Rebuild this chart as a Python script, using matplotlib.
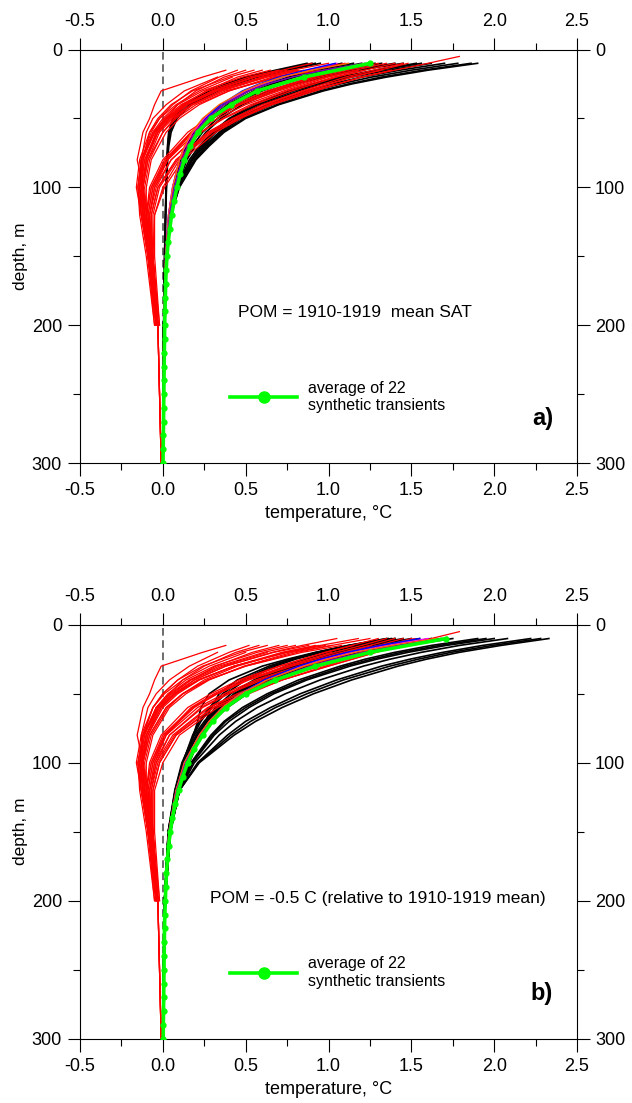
import numpy as np
import matplotlib
matplotlib.use('Agg')
import matplotlib.pyplot as plt
from matplotlib.lines import Line2D
from matplotlib.ticker import MultipleLocator

plt.rcParams['font.family'] = ['Liberation Sans', 'DejaVu Sans']

nan = float('nan')

# depth grids (m)
RED_DEPTH = [5, 10, 15, 20, 30, 40, 50, 60, 80, 100, 120, 150, 200, 300]
BLACK_DEPTH = [10, 15, 20, 25, 30, 40, 50, 60, 70, 80, 100, 120, 150, 200, 300]
GREEN_DEPTH = [10, 20, 30, 40, 50, 60, 70, 80, 90, 100, 110, 120, 130, 140, 150,
               160, 170, 180, 190, 200, 210, 220, 230, 240, 250, 260, 270, 280, 290, 300]

# ---- panel a) ----
red_a = [
    [nan, nan, 0.38, 0.24, -0.01, -0.05, -0.08, -0.12, -0.155, -0.12, -0.09, -0.06, -0.03, nan],
    [nan, nan, nan, 0.33, 0.13, 0.02, -0.06, -0.10, -0.13, -0.12, -0.10, -0.06, -0.03, nan],
    [nan, nan, 0.55, 0.40, 0.18, 0.05, -0.03, -0.08, -0.12, -0.13, -0.11, -0.07, -0.03, nan],
    [nan, nan, 0.65, 0.48, 0.24, 0.09, 0.00, -0.06, -0.12, -0.14, -0.12, -0.08, -0.04, nan],
    [nan, nan, 0.75, 0.56, 0.30, 0.13, 0.03, -0.04, -0.11, -0.13, -0.12, -0.08, -0.03, nan],
    [nan, nan, 0.85, 0.62, 0.33, 0.15, 0.04, -0.03, -0.10, -0.12, -0.11, -0.07, -0.03, -0.01],
    [nan, nan, 0.95, 0.70, 0.38, 0.18, 0.06, -0.02, -0.09, -0.12, -0.12, -0.09, -0.04, nan],
    [nan, nan, 0.60, 0.45, 0.26, 0.12, 0.02, -0.05, -0.13, -0.15, -0.13, -0.09, -0.05, nan],
    [nan, nan, 0.80, 0.60, 0.35, 0.18, 0.07, 0.00, -0.08, -0.11, -0.10, -0.07, -0.03, -0.01],
    [nan, 1.00, 0.78, 0.60, 0.32, 0.14, 0.03, -0.05, -0.13, -0.15, -0.14, -0.10, -0.05, nan],
    [nan, nan, 0.50, 0.37, 0.20, 0.09, 0.02, -0.04, -0.10, -0.12, -0.11, -0.08, -0.03, nan],
    [nan, nan, 0.90, 0.66, 0.40, 0.22, 0.10, 0.02, -0.07, -0.10, -0.10, -0.07, -0.03, nan],
    [nan, 1.10, 0.88, 0.68, 0.40, 0.20, 0.08, 0.00, -0.09, -0.12, -0.11, -0.08, -0.04, nan],
    [nan, nan, nan, 0.42, 0.22, 0.08, -0.02, -0.08, -0.14, -0.16, -0.13, -0.09, -0.04, nan],
    [nan, nan, 0.70, 0.52, 0.27, 0.11, 0.01, -0.05, -0.12, -0.14, -0.12, -0.08, -0.04, nan],
    [nan, nan, 0.45, 0.34, 0.17, 0.06, -0.02, -0.07, -0.13, -0.14, -0.12, -0.07, -0.03, nan],
    [nan, 0.90, 0.72, 0.55, 0.30, 0.14, 0.04, -0.03, -0.10, -0.13, -0.12, -0.08, -0.03, nan],
    [nan, nan, 0.82, 0.63, 0.36, 0.17, 0.05, -0.03, -0.11, -0.14, -0.13, -0.09, -0.04, nan],
    [nan, nan, nan, 0.55, 0.30, 0.13, 0.02, -0.06, -0.13, -0.15, -0.13, -0.08, -0.03, nan],
    [1.79, 1.60, 1.40, 1.20, 0.92, 0.66, 0.46, 0.30, 0.10, 0.00, -0.05, -0.06, -0.03, -0.01],
    [nan, 1.45, 1.27, 1.10, 0.84, 0.60, 0.42, 0.27, 0.08, -0.03, -0.07, -0.07, -0.03, nan],
    [nan, 1.40, 1.22, 1.05, 0.78, 0.55, 0.37, 0.23, 0.05, -0.05, -0.08, -0.07, -0.03, nan],
    [nan, nan, 1.32, 1.14, 0.86, 0.62, 0.43, 0.28, 0.08, -0.03, -0.07, -0.06, -0.03, -0.01],
    [nan, nan, 1.18, 1.00, 0.73, 0.50, 0.33, 0.20, 0.03, -0.06, -0.09, -0.08, -0.04, nan],
    [nan, 1.35, 1.16, 0.98, 0.70, 0.47, 0.30, 0.17, 0.01, -0.07, -0.10, -0.08, -0.03, nan],
    [nan, nan, 1.08, 0.90, 0.63, 0.42, 0.27, 0.15, 0.00, -0.08, -0.10, -0.08, -0.04, nan],
    [nan, 1.48, 1.31, 1.14, 0.88, 0.65, 0.47, 0.32, 0.12, 0.01, -0.05, -0.05, -0.02, nan],
    [nan, nan, 1.22, 1.03, 0.75, 0.53, 0.36, 0.23, 0.05, -0.04, -0.08, -0.07, -0.03, nan],
    [nan, nan, nan, 0.92, 0.65, 0.45, 0.30, 0.18, 0.03, -0.05, -0.08, -0.06, -0.03, -0.01],
    [nan, 1.30, 1.12, 0.95, 0.68, 0.46, 0.30, 0.18, 0.02, -0.06, -0.09, -0.07, -0.03, nan],
    [nan, nan, 1.38, 1.20, 0.90, 0.64, 0.45, 0.29, 0.09, -0.02, -0.06, -0.06, -0.02, nan],
    [nan, 1.25, 1.08, 0.92, 0.66, 0.45, 0.29, 0.17, 0.02, -0.07, -0.10, -0.08, -0.04, nan],
]

black_a = [
    [0.87, 0.68, 0.50, 0.38, 0.28, 0.13, 0.06, 0.035, 0.028, 0.024, 0.019, 0.015, 0.010, 0.005, 0.0],
    [0.90, 0.71, 0.53, 0.40, 0.30, 0.14, 0.065, 0.038, 0.030, 0.026, 0.020, 0.016, 0.011, 0.005, 0.0],
    [0.95, 0.75, 0.57, 0.44, 0.33, 0.16, 0.075, 0.042, 0.032, 0.027, 0.021, 0.017, 0.012, 0.006, 0.0],
    [0.92, 0.73, 0.56, 0.43, 0.33, 0.17, 0.085, 0.05, 0.036, 0.029, 0.022, 0.017, 0.012, 0.006, 0.0],
    [1.08, 0.88, 0.72, 0.60, 0.50, 0.35, 0.25, 0.18, 0.135, 0.10, 0.06, 0.035, 0.017, 0.005, 0.0],
    [1.20, 0.98, 0.80, 0.66, 0.55, 0.39, 0.28, 0.20, 0.15, 0.11, 0.065, 0.04, 0.018, 0.005, 0.0],
    [1.32, 1.07, 0.87, 0.72, 0.60, 0.42, 0.30, 0.22, 0.165, 0.125, 0.072, 0.043, 0.020, 0.006, 0.0],
    [1.40, 1.14, 0.93, 0.77, 0.64, 0.45, 0.33, 0.24, 0.18, 0.135, 0.078, 0.046, 0.021, 0.006, 0.0],
    [1.45, 1.18, 0.97, 0.80, 0.67, 0.48, 0.35, 0.26, 0.195, 0.145, 0.085, 0.05, 0.023, 0.007, 0.0],
    [1.28, 1.04, 0.85, 0.70, 0.58, 0.41, 0.29, 0.21, 0.16, 0.12, 0.07, 0.042, 0.020, 0.006, 0.0],
    [1.15, 0.93, 0.76, 0.63, 0.52, 0.37, 0.26, 0.19, 0.14, 0.105, 0.062, 0.037, 0.018, 0.005, 0.0],
    [1.53, 1.28, 1.07, 0.90, 0.76, 0.55, 0.40, 0.30, 0.22, 0.16, 0.085, 0.045, 0.018, 0.005, 0.0],
    [1.56, 1.31, 1.10, 0.93, 0.79, 0.57, 0.41, 0.31, 0.23, 0.17, 0.088, 0.046, 0.019, 0.005, 0.0],
    [1.62, 1.36, 1.14, 0.96, 0.82, 0.59, 0.43, 0.32, 0.24, 0.175, 0.09, 0.047, 0.019, 0.005, 0.0],
    [1.78, 1.50, 1.26, 1.07, 0.91, 0.66, 0.47, 0.35, 0.26, 0.19, 0.095, 0.048, 0.020, 0.006, 0.0],
    [1.86, 1.57, 1.32, 1.12, 0.95, 0.69, 0.49, 0.36, 0.27, 0.195, 0.098, 0.049, 0.020, 0.006, 0.0],
    [1.90, 1.60, 1.35, 1.14, 0.97, 0.70, 0.50, 0.37, 0.28, 0.20, 0.10, 0.05, 0.020, 0.006, 0.0],
    [1.70, 1.43, 1.20, 1.02, 0.87, 0.63, 0.45, 0.34, 0.25, 0.18, 0.092, 0.047, 0.019, 0.005, 0.0],
]

colored_a = {
    '#ff00ff': [1.05, 0.87, 0.72, 0.60, 0.50, 0.35, 0.25, 0.18, 0.135, 0.10, 0.058, 0.034, 0.016, 0.005, 0.0],
    '#0000ff': [1.04, 0.86, 0.70, 0.58, 0.48, 0.35, 0.26, 0.20, 0.16, 0.12, 0.07, 0.042, 0.02, 0.006, 0.0],
    '#ff6600': [1.12, 0.90, 0.72, 0.59, 0.49, 0.34, 0.24, 0.175, 0.13, 0.10, 0.06, 0.036, 0.017, 0.005, 0.0],
    '#8000c0': [1.22, 0.97, 0.78, 0.63, 0.52, 0.37, 0.265, 0.195, 0.15, 0.115, 0.068, 0.04, 0.019, 0.006, 0.0],
}

green_a = [1.25, 0.85, 0.57, 0.41, 0.29, 0.21, 0.165, 0.13, 0.105, 0.085, 0.068, 0.053, 0.042, 0.032, 0.025,
           0.020, 0.017, 0.015, 0.013, 0.011, 0.010, 0.009, 0.008, 0.007, 0.006, 0.005, 0.004, 0.003, 0.002, 0.001]

# ---- panel b) ----
red_b = [
    [nan, nan, 0.38, 0.24, -0.01, -0.05, -0.08, -0.12, -0.155, -0.12, -0.09, -0.06, -0.03, nan],
    [nan, nan, nan, 0.33, 0.16, 0.04, -0.04, -0.09, -0.13, -0.12, -0.10, -0.06, -0.03, nan],
    [nan, nan, 0.63, 0.47, 0.24, 0.09, 0.00, -0.06, -0.12, -0.13, -0.11, -0.07, -0.03, nan],
    [nan, nan, 0.75, 0.57, 0.31, 0.14, 0.03, -0.04, -0.11, -0.14, -0.12, -0.08, -0.04, nan],
    [nan, nan, 0.88, 0.67, 0.38, 0.19, 0.07, -0.02, -0.10, -0.13, -0.12, -0.08, -0.03, nan],
    [nan, nan, 0.98, 0.75, 0.43, 0.22, 0.09, 0.00, -0.09, -0.12, -0.11, -0.07, -0.03, -0.01],
    [nan, nan, 1.08, 0.84, 0.50, 0.27, 0.12, 0.02, -0.08, -0.12, -0.12, -0.09, -0.04, nan],
    [nan, nan, 0.70, 0.54, 0.32, 0.17, 0.06, -0.03, -0.12, -0.15, -0.13, -0.09, -0.05, nan],
    [nan, nan, 0.94, 0.73, 0.45, 0.25, 0.12, 0.03, -0.07, -0.11, -0.10, -0.07, -0.03, -0.01],
    [nan, 1.18, 0.95, 0.75, 0.43, 0.21, 0.07, -0.02, -0.12, -0.15, -0.14, -0.10, -0.05, nan],
    [nan, nan, 0.58, 0.44, 0.25, 0.12, 0.04, -0.03, -0.10, -0.12, -0.11, -0.08, -0.03, nan],
    [nan, nan, 1.02, 0.78, 0.49, 0.28, 0.14, 0.04, -0.06, -0.10, -0.10, -0.07, -0.03, nan],
    [nan, 1.25, 1.02, 0.81, 0.50, 0.27, 0.12, 0.02, -0.08, -0.12, -0.11, -0.08, -0.04, nan],
    [nan, nan, nan, 0.50, 0.28, 0.12, 0.01, -0.06, -0.13, -0.16, -0.13, -0.09, -0.04, nan],
    [nan, nan, 0.80, 0.61, 0.34, 0.16, 0.04, -0.04, -0.11, -0.14, -0.12, -0.08, -0.04, nan],
    [nan, nan, 0.52, 0.40, 0.21, 0.09, 0.00, -0.06, -0.12, -0.14, -0.12, -0.07, -0.03, nan],
    [nan, 1.05, 0.84, 0.66, 0.38, 0.19, 0.07, -0.01, -0.09, -0.13, -0.12, -0.08, -0.03, nan],
    [nan, nan, 0.92, 0.72, 0.43, 0.22, 0.08, -0.01, -0.10, -0.14, -0.13, -0.09, -0.04, nan],
    [nan, nan, nan, 0.63, 0.36, 0.17, 0.05, -0.04, -0.12, -0.15, -0.13, -0.08, -0.03, nan],
    [1.79, 1.62, 1.45, 1.28, 1.00, 0.72, 0.50, 0.30, 0.08, -0.02, -0.06, -0.06, -0.03, -0.01],
    [nan, 1.50, 1.35, 1.20, 0.92, 0.66, 0.45, 0.27, 0.06, -0.04, -0.07, -0.07, -0.03, nan],
    [nan, 1.45, 1.30, 1.15, 0.86, 0.60, 0.40, 0.24, 0.04, -0.05, -0.08, -0.07, -0.03, nan],
    [nan, nan, 1.40, 1.24, 0.95, 0.68, 0.47, 0.28, 0.07, -0.03, -0.07, -0.06, -0.03, -0.01],
    [nan, nan, 1.26, 1.10, 0.82, 0.56, 0.37, 0.21, 0.02, -0.06, -0.09, -0.08, -0.04, nan],
    [nan, 1.40, 1.25, 1.08, 0.78, 0.52, 0.33, 0.18, 0.00, -0.07, -0.10, -0.08, -0.03, nan],
    [nan, nan, 1.15, 0.98, 0.70, 0.46, 0.29, 0.15, -0.01, -0.08, -0.10, -0.08, -0.04, nan],
    [nan, 1.52, 1.38, 1.24, 0.98, 0.72, 0.52, 0.33, 0.10, 0.00, -0.05, -0.05, -0.02, nan],
    [nan, nan, 1.30, 1.13, 0.84, 0.58, 0.39, 0.23, 0.04, -0.04, -0.08, -0.07, -0.03, nan],
    [nan, nan, nan, 1.02, 0.74, 0.50, 0.32, 0.18, 0.02, -0.05, -0.08, -0.06, -0.03, -0.01],
    [nan, 1.35, 1.20, 1.04, 0.76, 0.51, 0.33, 0.19, 0.01, -0.06, -0.09, -0.07, -0.03, nan],
    [nan, nan, 1.45, 1.29, 1.00, 0.72, 0.50, 0.31, 0.08, -0.02, -0.06, -0.06, -0.02, nan],
    [nan, 1.30, 1.14, 0.98, 0.71, 0.48, 0.31, 0.17, 0.01, -0.07, -0.10, -0.08, -0.04, nan],
]

black_b = [
    [1.36, 1.12, 0.93, 0.77, 0.64, 0.45, 0.34, 0.29, 0.26, 0.23, 0.16, 0.10, 0.045, 0.012, 0.0],
    [1.38, 1.13, 0.92, 0.75, 0.60, 0.40, 0.28, 0.23, 0.21, 0.185, 0.13, 0.085, 0.035, 0.010, 0.0],
    [1.35, 1.12, 0.93, 0.78, 0.66, 0.48, 0.36, 0.28, 0.22, 0.18, 0.12, 0.075, 0.033, 0.010, 0.0],
    [1.40, 1.16, 0.96, 0.80, 0.68, 0.50, 0.38, 0.29, 0.23, 0.185, 0.12, 0.075, 0.033, 0.010, 0.0],
    [1.45, 1.22, 1.04, 0.89, 0.77, 0.57, 0.43, 0.33, 0.26, 0.20, 0.12, 0.075, 0.033, 0.010, 0.0],
    [1.55, 1.30, 1.10, 0.94, 0.81, 0.60, 0.45, 0.35, 0.27, 0.21, 0.125, 0.078, 0.035, 0.010, 0.0],
    [1.62, 1.36, 1.15, 0.98, 0.85, 0.63, 0.47, 0.36, 0.28, 0.22, 0.13, 0.08, 0.036, 0.011, 0.0],
    [1.68, 1.41, 1.19, 1.02, 0.88, 0.65, 0.49, 0.38, 0.29, 0.23, 0.135, 0.083, 0.037, 0.011, 0.0],
    [1.75, 1.47, 1.24, 1.06, 0.91, 0.67, 0.51, 0.39, 0.30, 0.235, 0.14, 0.086, 0.038, 0.012, 0.0],
    [1.40, 1.18, 1.00, 0.86, 0.74, 0.55, 0.41, 0.32, 0.25, 0.19, 0.115, 0.072, 0.032, 0.010, 0.0],
    [1.50, 1.26, 1.07, 0.92, 0.79, 0.59, 0.44, 0.34, 0.265, 0.205, 0.122, 0.076, 0.034, 0.010, 0.0],
    [1.90, 1.62, 1.40, 1.22, 1.07, 0.82, 0.63, 0.48, 0.37, 0.29, 0.17, 0.095, 0.042, 0.012, 0.0],
    [1.95, 1.67, 1.44, 1.26, 1.10, 0.85, 0.65, 0.50, 0.38, 0.30, 0.175, 0.098, 0.043, 0.012, 0.0],
    [2.00, 1.71, 1.48, 1.29, 1.13, 0.87, 0.67, 0.52, 0.40, 0.31, 0.18, 0.10, 0.044, 0.013, 0.0],
    [2.22, 1.93, 1.69, 1.49, 1.32, 1.05, 0.83, 0.65, 0.50, 0.39, 0.21, 0.10, 0.045, 0.013, 0.0],
    [2.28, 1.99, 1.74, 1.54, 1.37, 1.09, 0.87, 0.68, 0.53, 0.41, 0.215, 0.10, 0.046, 0.014, 0.0],
    [2.33, 2.04, 1.79, 1.59, 1.42, 1.14, 0.91, 0.72, 0.56, 0.43, 0.22, 0.10, 0.047, 0.014, 0.0],
    [2.08, 1.79, 1.56, 1.37, 1.21, 0.95, 0.74, 0.57, 0.44, 0.34, 0.19, 0.10, 0.044, 0.013, 0.0],
]

colored_b = {
    '#ff00ff': [1.60, 1.35, 1.14, 0.97, 0.84, 0.62, 0.47, 0.36, 0.28, 0.22, 0.13, 0.08, 0.036, 0.011, 0.0],
    '#0000ff': [1.55, 1.31, 1.11, 0.95, 0.82, 0.61, 0.47, 0.37, 0.29, 0.23, 0.14, 0.085, 0.038, 0.011, 0.0],
    '#ff6600': [1.65, 1.38, 1.16, 0.99, 0.85, 0.63, 0.47, 0.36, 0.28, 0.22, 0.13, 0.08, 0.036, 0.011, 0.0],
    '#8000c0': [1.70, 1.43, 1.21, 1.03, 0.89, 0.66, 0.50, 0.38, 0.295, 0.23, 0.137, 0.084, 0.037, 0.011, 0.0],
}

green_b = [1.71, 1.25, 0.92, 0.68, 0.50, 0.38, 0.30, 0.24, 0.19, 0.15, 0.12, 0.095, 0.075, 0.058, 0.045,
           0.035, 0.028, 0.022, 0.018, 0.015, 0.012, 0.010, 0.009, 0.008, 0.007, 0.006, 0.005, 0.004, 0.003, 0.002]

XTICKS = [-0.5, 0.0, 0.5, 1.0, 1.5, 2.0, 2.5]
YTICKS = [0, 100, 200, 300]


def setupAxes(ax):
	ax.set_xlim(-0.5, 2.5)
	ax.set_ylim(300, 0)
	ax.set_xticks(XTICKS)
	ax.set_xticklabels(['%.1f' % t for t in XTICKS])
	ax.set_yticks(YTICKS)
	ax.xaxis.set_minor_locator(MultipleLocator(0.25))
	ax.yaxis.set_minor_locator(MultipleLocator(50))
	ax.tick_params(which='both', direction='out', top=True, right=True,
		labeltop=True, labelright=True, width=0.8, colors='black', labelsize=13)
	ax.tick_params(which='major', length=9)
	ax.tick_params(which='minor', length=4.7)
	ax.tick_params(axis='x', which='major', pad=5)
	ax.tick_params(axis='y', which='major', pad=4)
	for s in ax.spines.values():
		s.set_linewidth(0.8)
	ax.set_xlabel('temperature, \u00b0C', fontsize=13, labelpad=4)
	ax.set_ylabel('depth, m', fontsize=12.5, labelpad=3)


def drawPanel(ax, red, black, colored, green, pomText, pomX, pomY, letter):
	ax.axvline(0.0, color='#444444', ls='--', lw=1.1, dashes=(5, 3), zorder=1)
	for t in black:
		ax.plot(t, BLACK_DEPTH, color='black', lw=1.2, zorder=2)
	for t in red:
		ax.plot(t, RED_DEPTH, color='#ff0000', lw=0.9, zorder=3)
	for c, t in colored.items():
		ax.plot(t, BLACK_DEPTH, color=c, lw=1.0, zorder=4)
	ax.plot(green, GREEN_DEPTH, color='#00ff00', lw=2.6, marker='o', ms=3.5, zorder=5)
	setupAxes(ax)
	ax.text(pomX, pomY, pomText, fontsize=12.5, ha='left', va='center')
	ax.text(2.355, 267.5, letter, fontsize=17, fontweight='bold', ha='right', va='center')
	handle = Line2D([], [], color='#00ff00', lw=2.6, marker='o', ms=8)
	ax.legend([handle], ['average of 22\nsynthetic transients'], loc='center left',
		bbox_to_anchor=(0.302, 0.16), frameon=False, fontsize=11.5, handlelength=4.2,
		handletextpad=0.7, borderpad=0, borderaxespad=0, numpoints=1)


def main():
	fig = plt.figure(figsize=(6.32, 11.03), dpi=100)
	axA = fig.add_axes([0.1266, 0.5802, 0.7864, 0.3749])
	axB = fig.add_axes([0.1266, 0.0583, 0.7864, 0.3753])
	drawPanel(axA, red_a, black_a, colored_a, green_a, 'POM = 1910-1919  mean SAT', 0.454, 191, 'a)')
	drawPanel(axB, red_b, black_b, colored_b, green_b, 'POM = -0.5 C (relative to 1910-1919 mean)', 0.285, 198.5, 'b)')
	fig.savefig('out.png', dpi=100)


if __name__ == '__main__':
	main()
